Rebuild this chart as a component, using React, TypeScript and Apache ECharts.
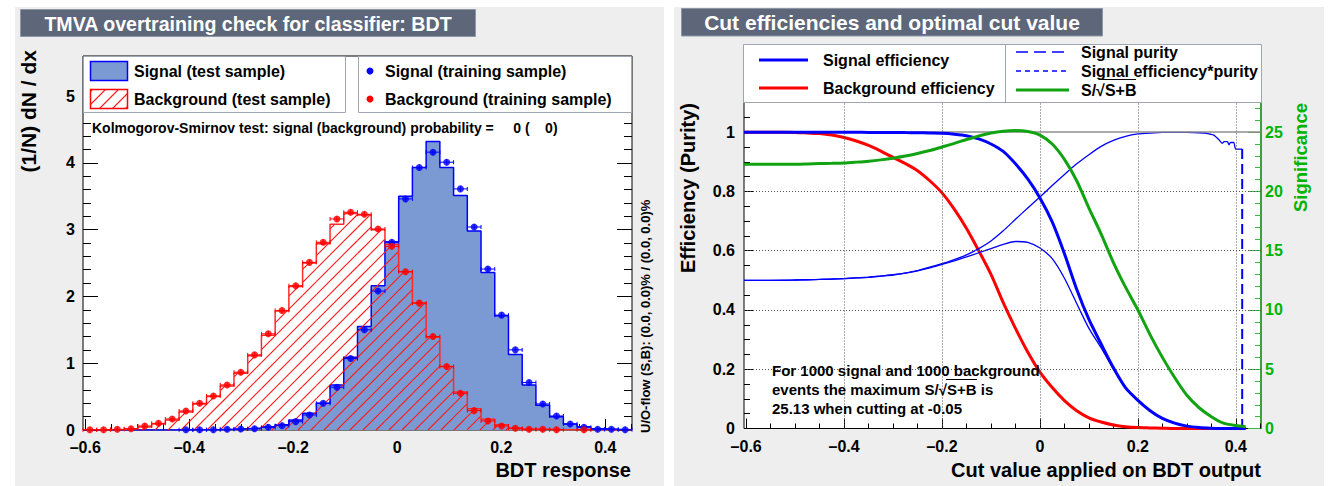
import React, { useEffect, useRef } from "react";
import * as echarts from "echarts";

// ---------------- Left panel: overtraining check histograms ----------------
const HIST_MIN = -0.6044;
const HIST_MAX = 0.4514;
const N_BINS = 40;

// Signal (test sample) – filled histogram, (1/N) dN/dx per bin
const sigTest = [
  0, 0, 0, 0, 0, 0, 0, 0.002, 0.003, 0.005,
  0.01, 0.02, 0.03, 0.05, 0.08, 0.15, 0.25, 0.4, 0.675, 1.09,
  1.55, 2.16, 2.82, 3.5, 3.93, 4.32, 3.93, 3.51, 2.98, 2.36,
  1.71, 1.13, 0.675, 0.37, 0.2, 0.09, 0.05, 0.02, 0.01, 0.005,
];
// Signal (training sample) – points
const sigTrain = [
  null, null, null, null, null, null, null, 0.003, 0.003, 0.005,
  0.01, 0.015, 0.02, 0.04, 0.065, 0.125, 0.225, 0.4, 0.64, 1.07,
  1.5, 2.08, 2.81, 3.46, 3.93, 4.16, 4.01, 3.61, 3.04, 2.41,
  1.72, 1.2, 0.71, 0.39, 0.21, 0.09, 0.04, 0.01, 0.01, 0.005,
];
// Background (test sample) – hatched histogram
const bkgTest = [
  0.003, 0.003, 0.008, 0.018, 0.045, 0.09, 0.15, 0.27, 0.39, 0.5,
  0.66, 0.85, 1.11, 1.42, 1.78, 2.15, 2.5, 2.79, 3.08, 3.24,
  3.22, 3.0, 2.78, 2.37, 1.9, 1.39, 0.95, 0.57, 0.32, 0.16,
  0.08, 0.03, 0.015, 0.01, 0.005, 0.003, 0.002, 0, 0, 0,
];
// Background (training sample) – points
const bkgTrain = [
  0.003, 0.003, 0.01, 0.02, 0.06, 0.1, 0.165, 0.285, 0.4, 0.51,
  0.675, 0.865, 1.125, 1.44, 1.79, 2.16, 2.51, 2.81, 3.16, 3.26,
  3.23, 3.01, 2.75, 2.37, 1.9, 1.4, 0.95, 0.55, 0.29, 0.135,
  0.06, 0.025, 0.01, 0.01, 0.005, null, 0.005, null, null, null,
];

const leftXMajor = [-0.6, -0.4, -0.2, 0, 0.2, 0.4];
const leftYMajor = [0, 1, 2, 3, 4, 5];

// ---------------- Right panel: cut efficiencies ----------------
const cutX = [
  -0.6044, -0.575, -0.55, -0.525, -0.5, -0.475, -0.45, -0.425, -0.4, -0.375,
  -0.35, -0.325, -0.3, -0.275, -0.25, -0.225, -0.2, -0.175, -0.15, -0.125,
  -0.1, -0.075, -0.05, -0.025, 0, 0.025, 0.05, 0.075, 0.1, 0.125,
  0.15, 0.175, 0.2, 0.225, 0.25, 0.275, 0.3, 0.325, 0.35, 0.375,
  0.4, 0.42,
];
const sigEff = [
  1.0, 1.0, 1.0, 1.0, 1.0, 1.0, 1.0, 1.0, 1.0, 0.9995,
  0.999, 0.999, 0.999, 0.9985, 0.998, 0.997, 0.996, 0.993, 0.988, 0.977,
  0.96, 0.935, 0.893, 0.842, 0.778, 0.697, 0.59, 0.47, 0.368, 0.285,
  0.205, 0.137, 0.095, 0.06, 0.034, 0.018, 0.008, 0.003, 0.001, 0,
  0, 0,
];
const bkgEff = [
  1.0, 1.0, 1.0, 0.9995, 0.999, 0.997, 0.995, 0.99, 0.982, 0.97,
  0.955, 0.936, 0.915, 0.894, 0.87, 0.836, 0.795, 0.74, 0.675, 0.6,
  0.52, 0.425, 0.338, 0.258, 0.19, 0.138, 0.094, 0.06, 0.036, 0.022,
  0.012, 0.006, 0.003, 0.002, 0.001, 0, 0, 0, 0, 0,
  0, 0,
];
const effPurity = [
  0.5, 0.5, 0.5, 0.5, 0.501, 0.502, 0.503, 0.504, 0.506, 0.508,
  0.51, 0.514, 0.518, 0.524, 0.532, 0.542, 0.554, 0.566, 0.579, 0.593,
  0.607, 0.621, 0.631, 0.628, 0.609, 0.573, 0.507, 0.422, 0.338, 0.272,
  0.2, 0.135, 0.094, 0.06, 0.034, 0.018, 0.008, 0.003, 0.001, 0,
  0, 0,
];
const significance = [
  22.3, 22.3, 22.3, 22.3, 22.3, 22.32, 22.35, 22.37, 22.4, 22.47,
  22.55, 22.66, 22.8, 22.98, 23.2, 23.45, 23.75, 24.05, 24.38, 24.68,
  24.92, 25.07, 25.13, 25.05, 24.75, 24.0, 22.7, 20.9, 18.6, 16.4,
  14.0, 11.9, 10.0, 7.9, 6.0, 4.3, 2.8, 1.75, 1.0, 0.45,
  0.25, 0.15,
];
const purityX = [
  -0.6044, -0.55, -0.5, -0.45, -0.4, -0.35, -0.3, -0.25, -0.2, -0.175,
  -0.15, -0.125, -0.1, -0.075, -0.05, -0.025, 0, 0.025, 0.05, 0.075,
  0.1, 0.125, 0.15, 0.175, 0.2, 0.225, 0.25, 0.275, 0.3, 0.325,
  0.34, 0.355, 0.365, 0.372, 0.376, 0.383, 0.386, 0.389, 0.396, 0.3995,
  0.413,
];
const purity = [
  0.5, 0.5, 0.501, 0.503, 0.506, 0.511, 0.519, 0.533, 0.556, 0.57,
  0.586, 0.607, 0.633, 0.667, 0.706, 0.744, 0.781, 0.82, 0.857, 0.893,
  0.924, 0.952, 0.972, 0.986, 0.994, 0.997, 0.999, 0.999, 0.999, 0.998,
  0.996, 0.99, 0.975, 0.962, 0.968, 0.968, 0.957, 0.965, 0.965, 0.943,
  0.943,
];

const rightXMajor = [-0.6, -0.4, -0.2, 0, 0.2, 0.4];
const rightYMajor = [0, 0.2, 0.4, 0.6, 0.8, 1];
const sigAxisMajor = [0, 5, 10, 15, 20, 25];

// ---------------- helpers ----------------
const FONT = '"Liberation Sans", Arial, Helvetica, sans-serif';
const BLUE = "#0000ff";
const RED = "#ff0000";
const GREEN = "#12a312";
const GREEN_TXT = "#00b400";

const BIN_W = (HIST_MAX - HIST_MIN) / N_BINS;
const edges = Array.from({ length: N_BINS + 1 }, (_, i) => HIST_MIN + i * BIN_W);

function tickRange(a: number, b: number, step: number) {
  const out: number[] = [];
  for (let k = 0; a + k * step <= b + 1e-9; k++) out.push(+(a + k * step).toFixed(4));
  return out;
}
const leftXMinor = tickRange(-0.6, 0.45, 0.05);
const leftYMinor = tickRange(0, 5.6, 0.2);
const rightXMinor = tickRange(-0.6, 0.45, 0.05);
const rightYMinor = tickRange(0, 1.1, 0.05);
const sigAxisMinor = tickRange(0, 27, 1);

const stepData = (vals: number[]) => edges.map((e, i) => [e, vals[Math.min(i, N_BINS - 1)]]);
const binData = (vals: number[]) => vals.map((v, i) => [edges[i], edges[i + 1], v]);
const pointData = (vals: (number | null)[]) =>
  vals
    .map((v, i) => (v == null ? null : [(edges[i] + edges[i + 1]) / 2, v, edges[i], edges[i + 1]]))
    .filter((d) => d !== null) as number[][];
const zip = (xs: number[], ys: number[]) => xs.map((x, i) => [x, ys[i]]);

function hatch(left: number, top: number, right: number, bottom: number, S: number) {
  const out: any[] = [];
  const start = Math.ceil((left + top) / S) * S;
  for (let c = start; c <= right + bottom; c += S) {
    const xa = Math.max(left, c - bottom);
    const xb = Math.min(right, c - top);
    if (xb - xa > 0.3) out.push({ x1: xa, y1: c - xa, x2: xb, y2: c - xb });
  }
  return out;
}

const xFmt = (v: number) => (v === 0 ? "0" : (v < 0 ? "\u2013" : "") + Math.abs(v).toFixed(1));
const yFmtR = (v: number) => (v === 0 ? "0" : v === 1 ? "1" : v.toFixed(1));

function mkAxis(
  gridIndex: number,
  position: string,
  min: number,
  max: number,
  ticks: number[],
  len: number,
  tickColor: string,
  label?: { values: number[]; formatter: any; margin: number; color: string },
  line?: { color: string; width: number }
) {
  return {
    type: "value",
    gridIndex,
    position,
    min,
    max,
    axisLine: { show: !!line, onZero: false, lineStyle: { color: line ? line.color : "#000", width: line ? line.width : 1 } },
    axisTick: { show: true, inside: true, length: len, customValues: ticks, lineStyle: { color: tickColor, width: 1 } },
    axisLabel: label
      ? {
          show: true,
          customValues: label.values,
          formatter: label.formatter,
          margin: label.margin,
          color: label.color,
          fontFamily: FONT,
          fontWeight: "bold",
          fontSize: 16,
        }
      : { show: false },
    splitLine: { show: false },
    axisPointer: { show: false },
  };
}

const txt = (text: string, x: number, y: number, size: number, extra: any = {}, elExtra: any = {}) => ({
  type: "text",
  x,
  y,
  z: 60,
  ...elExtra,
  style: {
    text,
    fill: "#000",
    fontFamily: FONT,
    fontWeight: "bold",
    fontSize: size,
    align: "left",
    verticalAlign: "middle",
    ...extra,
  },
});
const ln = (x1: number, y1: number, x2: number, y2: number, stroke: string, lineWidth: number, lineDash?: number[]) => ({
  type: "line",
  z: 60,
  shape: { x1, y1, x2, y2 },
  style: { stroke, lineWidth, lineDash },
});

export default function App() {
  const ref = useRef<HTMLDivElement>(null);
  useEffect(() => {
    if (!ref.current) return;
    const chart = echarts.init(ref.current, undefined, { renderer: "svg" });

    const RY_MAX = 1.1;
    const SIG_MAX = 27.5;
    const HATCH = "#ff1a1a";

    const option: any = {
      animation: false,
      backgroundColor: "#ffffff",
      grid: [
        { left: 83, top: 56, width: 549, height: 374, show: true, backgroundColor: "#ffffff", borderColor: "#000", borderWidth: 1 },
        { left: 744, top: 102.5, width: 517, height: 326, show: true, backgroundColor: "#ffffff", borderColor: "#000", borderWidth: 1 },
      ],
      xAxis: [
        mkAxis(0, "bottom", HIST_MIN, HIST_MAX, leftXMajor, 11, "#000", { values: leftXMajor, formatter: xFmt, margin: 9, color: "#000" }),
        mkAxis(0, "bottom", HIST_MIN, HIST_MAX, leftXMinor, 6, "#000"),
        mkAxis(0, "top", HIST_MIN, HIST_MAX, leftXMajor, 11, "#000"),
        mkAxis(0, "top", HIST_MIN, HIST_MAX, leftXMinor, 6, "#000"),
        mkAxis(1, "bottom", HIST_MIN, HIST_MAX, rightXMajor, 10, "#000", { values: rightXMajor, formatter: xFmt, margin: 10, color: "#000" }),
        mkAxis(1, "bottom", HIST_MIN, HIST_MAX, rightXMinor, 5, "#000"),
      ],
      yAxis: [
        mkAxis(0, "left", 0, 5.6, leftYMajor, 15, "#000", { values: leftYMajor, formatter: (v: number) => String(v), margin: 8, color: "#000" }),
        mkAxis(0, "left", 0, 5.6, leftYMinor, 8, "#000"),
        mkAxis(0, "right", 0, 5.6, leftYMajor, 15, "#000"),
        mkAxis(0, "right", 0, 5.6, leftYMinor, 8, "#000"),
        mkAxis(1, "left", 0, RY_MAX, rightYMajor, 10, "#000", { values: rightYMajor, formatter: yFmtR, margin: 9, color: "#000" }),
        mkAxis(1, "left", 0, RY_MAX, rightYMinor, 6, "#000"),
        mkAxis(1, "right", 0, SIG_MAX, sigAxisMajor, 13, "#3cb93c", { values: sigAxisMajor, formatter: (v: number) => String(v), margin: 4, color: GREEN_TXT }, { color: "#22b022", width: 1.5 }),
        mkAxis(1, "right", 0, SIG_MAX, sigAxisMinor, 6, "#3cb93c"),
      ],
      series: [
        // ---- left: signal test (filled) ----
        {
          type: "line",
          xAxisIndex: 0,
          yAxisIndex: 0,
          step: "end",
          data: stepData(sigTest),
          symbol: "none",
          lineStyle: { color: BLUE, width: 1.5 },
          areaStyle: { color: "#7b99d2", opacity: 1 },
          z: 2,
          silent: true,
        },
        // ---- left: background test hatch ----
        {
          type: "custom",
          xAxisIndex: 0,
          yAxisIndex: 0,
          data: binData(bkgTest),
          z: 3,
          silent: true,
          renderItem: (params: any, api: any) => {
            const x0 = api.value(0);
            const x1 = api.value(1);
            const v = api.value(2);
            if (!(v > 0)) return { type: "group", children: [] };
            const a = api.coord([x0, 0]);
            const b = api.coord([x1, v]);
            return {
              type: "group",
              children: hatch(a[0], b[1], b[0], a[1], 13).map((s) => ({
                type: "line",
                shape: s,
                style: { stroke: HATCH, fill: "none", lineWidth: 1.1, opacity: 1 },
              })),
            };
          },
        },
        {
          type: "line",
          xAxisIndex: 0,
          yAxisIndex: 0,
          step: "end",
          data: stepData(bkgTest),
          symbol: "none",
          lineStyle: { color: "#ff2a2a", width: 1.5 },
          z: 4,
          silent: true,
        },
        // ---- left: training points with error bars ----
        ...[
          { vals: sigTrain, color: BLUE },
          { vals: bkgTrain, color: RED },
        ].flatMap((s) => [
          {
            type: "custom",
            xAxisIndex: 0,
            yAxisIndex: 0,
            data: pointData(s.vals),
            z: 5,
            silent: true,
            renderItem: (params: any, api: any) => {
              const p = api.coord([api.value(0), api.value(1)]);
              const l = api.coord([api.value(2), api.value(1)]);
              const r = api.coord([api.value(3), api.value(1)]);
              return {
                type: "group",
                children: [
                  { type: "line", shape: { x1: l[0], y1: p[1], x2: r[0], y2: p[1] }, style: { stroke: s.color, lineWidth: 1 } },
                  { type: "line", shape: { x1: l[0], y1: p[1] - 2, x2: l[0], y2: p[1] + 2 }, style: { stroke: s.color, lineWidth: 1 } },
                  { type: "line", shape: { x1: r[0], y1: p[1] - 2, x2: r[0], y2: p[1] + 2 }, style: { stroke: s.color, lineWidth: 1 } },
                  { type: "line", shape: { x1: p[0], y1: p[1] - 3, x2: p[0], y2: p[1] + 3 }, style: { stroke: s.color, lineWidth: 1 } },
                ],
              };
            },
          },
          {
            type: "scatter",
            xAxisIndex: 0,
            yAxisIndex: 0,
            data: pointData(s.vals).map((d) => [d[0], d[1]]),
            symbol: "circle",
            symbolSize: 7,
            itemStyle: { color: s.color },
            z: 6,
            silent: true,
          },
        ]),
        // ---- right panel curves ----
        {
          type: "line",
          xAxisIndex: 4,
          yAxisIndex: 4,
          data: zip(cutX, bkgEff),
          symbol: "none",
          smooth: 0.25,
          lineStyle: { color: RED, width: 3 },
          z: 3,
          silent: true,
          markLine: {
            silent: true,
            symbol: ["none", "none"],
            label: { show: false },
            lineStyle: { type: [1, 2], color: "#555", width: 1 },
            data: [
              ...rightXMajor.slice(1).map((v) => ({ xAxis: v })),
              ...rightYMajor.slice(1, 5).map((v) => ({ yAxis: v })),
              { yAxis: 1, lineStyle: { type: "solid", color: "#8c8c8c", width: 1.5 } },
            ],
          },
        },
        {
          type: "line",
          xAxisIndex: 4,
          yAxisIndex: 4,
          data: zip(purityX, purity),
          symbol: "none",
          smooth: 0.15,
          lineStyle: { color: BLUE, width: 1.3 },
          z: 4,
          silent: true,
        },
        {
          type: "line",
          xAxisIndex: 4,
          yAxisIndex: 4,
          data: [
            [purityX[purityX.length - 1], purity[purity.length - 1]],
            [purityX[purityX.length - 1], 0],
          ],
          symbol: "none",
          lineStyle: { color: BLUE, width: 2, type: [10, 5] },
          z: 4,
          silent: true,
        },
        {
          type: "line",
          xAxisIndex: 4,
          yAxisIndex: 4,
          data: zip(cutX, effPurity),
          symbol: "none",
          smooth: 0.25,
          lineStyle: { color: BLUE, width: 1.3 },
          z: 4,
          silent: true,
        },
        {
          type: "line",
          xAxisIndex: 4,
          yAxisIndex: 4,
          data: zip(cutX, sigEff),
          symbol: "none",
          smooth: 0.25,
          lineStyle: { color: BLUE, width: 3 },
          z: 5,
          silent: true,
        },
        {
          type: "line",
          xAxisIndex: 4,
          yAxisIndex: 6,
          data: zip(cutX, significance),
          symbol: "none",
          smooth: 0.25,
          lineStyle: { color: GREEN, width: 3 },
          z: 5,
          silent: true,
        },
      ],
      graphic: {
        elements: [
          // panel backgrounds
          { type: "rect", z: -10, shape: { x: 15, y: 7, width: 649, height: 479 }, style: { fill: "#eeeeee" } },
          { type: "rect", z: -10, shape: { x: 674, y: 7, width: 650, height: 479 }, style: { fill: "#eeeeee" } },
          // titles
          { type: "rect", z: 50, shape: { x: 20.5, y: 9.5, width: 455, height: 27 }, style: { fill: "#5d6779", stroke: "#8d96a4", lineWidth: 1 } },
          txt("TMVA overtraining check for classifier: BDT", 248, 23.5, 19.6, { fill: "#ffffff", align: "center" }),
          { type: "rect", z: 50, shape: { x: 681.5, y: 8.5, width: 421, height: 27.5 }, style: { fill: "#5d6779", stroke: "#8d96a4", lineWidth: 1 } },
          txt("Cut efficiencies and optimal cut value", 892, 22.5, 21, { fill: "#ffffff", align: "center" }),

          // left legends
          { type: "rect", z: 55, shape: { x: 83.5, y: 56.5, width: 262, height: 56 }, style: { fill: "#ffffff", stroke: "#9ea6b3", lineWidth: 1 } },
          { type: "rect", z: 55, shape: { x: 358.5, y: 56.5, width: 273, height: 56 }, style: { fill: "#ffffff", stroke: "#9ea6b3", lineWidth: 1 } },
          { type: "rect", z: 58, shape: { x: 90.5, y: 61.5, width: 37, height: 19 }, style: { fill: "#7b99d2", stroke: BLUE, lineWidth: 1.5 } },
          { type: "rect", z: 58, shape: { x: 90.5, y: 89.5, width: 37, height: 19 }, style: { fill: "#ffffff", stroke: RED, lineWidth: 1.5 } },
          ...hatch(90.5, 89.5, 127.5, 108.5, 13).map((s) => ({ type: "line", z: 59, shape: s, style: { stroke: HATCH, lineWidth: 1.1 } })),
          txt("Signal (test sample)", 134, 71, 16),
          txt("Background (test sample)", 134, 99, 16),
          { type: "circle", z: 60, shape: { cx: 370, cy: 71, r: 3.5 }, style: { fill: BLUE } },
          { type: "circle", z: 60, shape: { cx: 370, cy: 99, r: 3.5 }, style: { fill: RED } },
          txt("Signal (training sample)", 385, 71, 16),
          txt("Background (training sample)", 385, 99, 16),
          txt("Kolmogorov-Smirnov test: signal (background) probability =     0 (    0)", 92, 128, 14, { whiteSpace: "pre" }),
          txt("U/O-flow (S,B): (0.0, 0.0)% / (0.0, 0.0)%", 0, 0, 13, {}, { x: 645, y: 433, rotation: Math.PI / 2 }),
          txt("(1/N) dN / dx", 0, 0, 21, { align: "right" }, { x: 28, y: 50, rotation: Math.PI / 2 }),
          txt("BDT response", 631, 470, 20, { align: "right" }),

          // right legend
          { type: "rect", z: 55, shape: { x: 743.5, y: 44.5, width: 518, height: 58 }, style: { fill: "#ffffff", stroke: "#9ea6b3", lineWidth: 1 } },
          ln(1005.5, 44.5, 1005.5, 102.5, "#9ea6b3", 1),
          ln(759, 60, 808, 60, BLUE, 3),
          txt("Signal efficiency", 823, 60, 16),
          ln(759, 88, 808, 88, RED, 3),
          txt("Background efficiency", 823, 88, 16),
          ln(1016, 52, 1069, 52, BLUE, 1.5, [12, 6]),
          txt("Signal purity", 1081, 52, 16),
          ln(1016, 71, 1069, 71, BLUE, 1.5, [5, 4]),
          txt("Signal efficiency*purity", 1081, 71, 16),
          ln(1016, 90, 1069, 90, GREEN, 3),
          txt("S/\u221AS+B", 1081, 90, 16),
          ln(1102, 79.5, 1136, 79.5, "#000", 1),

          // right annotation
          txt("For 1000 signal and 1000 background", 772, 370, 15),
          txt("events the maximum S/\u221AS+B is", 772, 389, 15),
          ln(946, 379.5, 977, 379.5, "#000", 1),
          txt("25.13 when cutting at -0.05", 772, 408, 15),

          // right axis titles
          txt("Efficiency (Purity)", 0, 0, 20, { align: "right" }, { x: 688, y: 103, rotation: Math.PI / 2 }),
          txt("Significance", 0, 0, 18.5, { align: "right", fill: GREEN_TXT }, { x: 1300, y: 103, rotation: Math.PI / 2 }),
          txt("Cut value applied on BDT output", 1261, 470, 20, { align: "right" }),
        ],
      },
    };

    chart.setOption(option);
    return () => chart.dispose();
  }, []);

  return <div ref={ref} style={{ position: "fixed", left: 0, top: 0, width: 1337, height: 486 }} />;
}
